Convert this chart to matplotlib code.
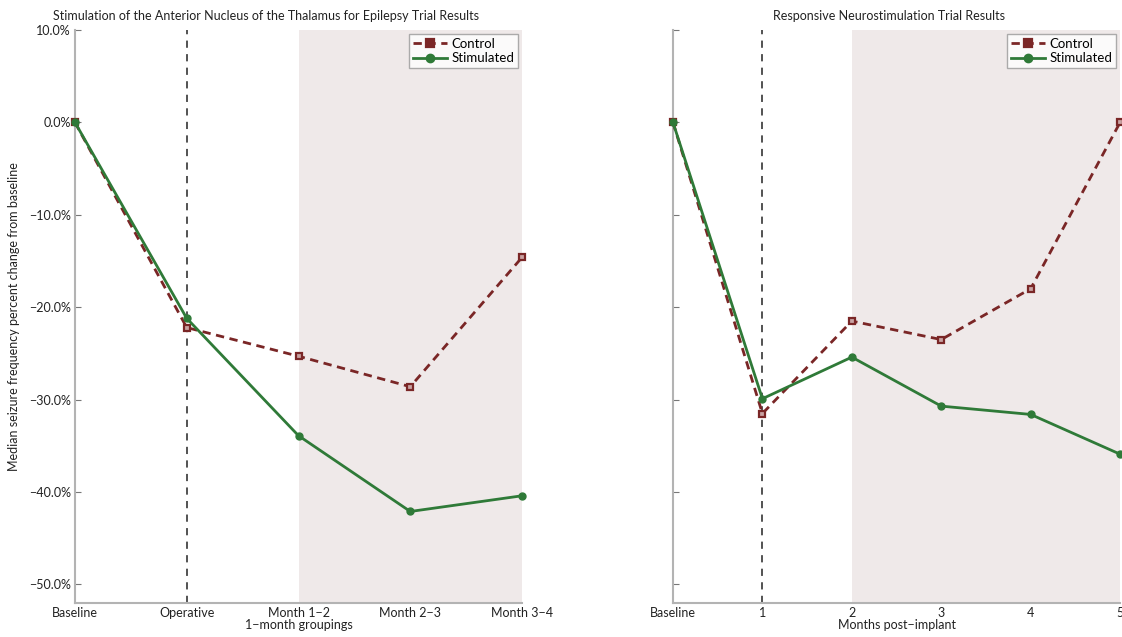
import matplotlib
matplotlib.use("Agg")
import matplotlib.pyplot as plt
from matplotlib.ticker import FuncFormatter

# ---- data ----
sant_labels = ["Baseline", "Operative", "Month 1\u22122", "Month 2\u22123", "Month 3\u22124"]
sant_control = [0.0, -22.2, -25.3, -28.6, -14.6]
sant_stimulated = [0.0, -21.2, -33.9, -42.1, -40.4]

rns_labels = ["Baseline", "1", "2", "3", "4", "5"]
rns_control = [0.0, -31.5, -21.5, -23.5, -18.0, 0.0]
rns_stimulated = [0.0, -29.9, -25.4, -30.7, -31.6, -35.9]

plt.rcParams["font.family"] = ["Lato", "DejaVu Sans"]
FS = 9
RED = "#7a2626"
GREEN = "#2f7a38"
SHADE = "#efe9e9"
SPINE = "#b3b3b3"
TXT = "#222222"

fig = plt.figure(figsize=(11.22, 6.37), dpi=100)
ax1 = fig.add_axes([0.0668, 0.0534, 0.3985, 0.8996])
ax2 = fig.add_axes([0.5998, 0.0534, 0.3985, 0.8996])


def pct(v, _):
    s = f"{abs(v):.1f}%"
    return ("\u2212" + s) if v < 0 else s


def draw(ax, labels, control, stim, title, title_x, xlabel, show_ylabels):
    x = list(range(len(labels)))
    ax.axvspan(2, x[-1], color=SHADE, lw=0, zorder=0)
    ax.axvline(1, color="#444444", lw=1.3, ls=(0, (4, 3.5)), zorder=1)
    ax.plot(x, control, color=RED, lw=2.0, ls=(0, (3, 2)), marker="s",
            ms=5, mfc="#c9a3a3", mec=RED, mew=1.6, label="Control", zorder=3,
            clip_on=False)
    ax.plot(x, stim, color=GREEN, lw=2.0, marker="o", ms=5, mfc=GREEN,
            mec=GREEN, label="Stimulated", zorder=4, clip_on=False)
    ax.set_xlim(0, x[-1])
    ax.set_ylim(-52, 10)
    ax.set_xticks(x)
    ax.set_xticklabels(labels, fontsize=FS, color=TXT)
    ax.set_yticks([10, 0, -10, -20, -30, -40, -50])
    ax.yaxis.set_major_formatter(FuncFormatter(pct))
    ax.tick_params(axis="x", length=0, pad=3)
    ax.tick_params(axis="y", direction="in", length=4, color="#777777",
                   labelsize=FS, labelcolor=TXT, pad=3,
                   labelleft=show_ylabels)
    for s in ("top", "right"):
        ax.spines[s].set_visible(False)
    for s in ("left", "bottom"):
        ax.spines[s].set_color(SPINE)
        ax.spines[s].set_linewidth(1.5)
    ax.set_title(title, fontsize=FS, color=TXT, pad=7, x=title_x)
    ax.set_xlabel(xlabel, fontsize=FS, color=TXT, labelpad=0)
    leg = ax.legend(loc="upper right", fontsize=FS + 0.5, frameon=True,
                    fancybox=False, borderaxespad=0.3, handlelength=2.6,
                    handletextpad=0.3, borderpad=0.3, labelspacing=0.2)
    leg.get_frame().set_edgecolor("#999999")
    leg.get_frame().set_linewidth(1.0)
    for h in leg.legend_handles:
        h.set_markerfacecolor(h.get_color())
        h.set_markersize(6)


draw(ax1, sant_labels, sant_control, sant_stimulated,
     "Stimulation of the Anterior Nucleus of the Thalamus for Epilepsy Trial Results",
     0.427, "1\u2212month groupings", True)
draw(ax2, rns_labels, rns_control, rns_stimulated,
     "Responsive Neurostimulation Trial Results",
     0.483, "Months post\u2212implant", False)

ax1.set_ylabel("Median seizure frequency percent change from baseline",
               fontsize=FS, color=TXT, labelpad=6)

fig.savefig("out.png", dpi=100, facecolor="white")
